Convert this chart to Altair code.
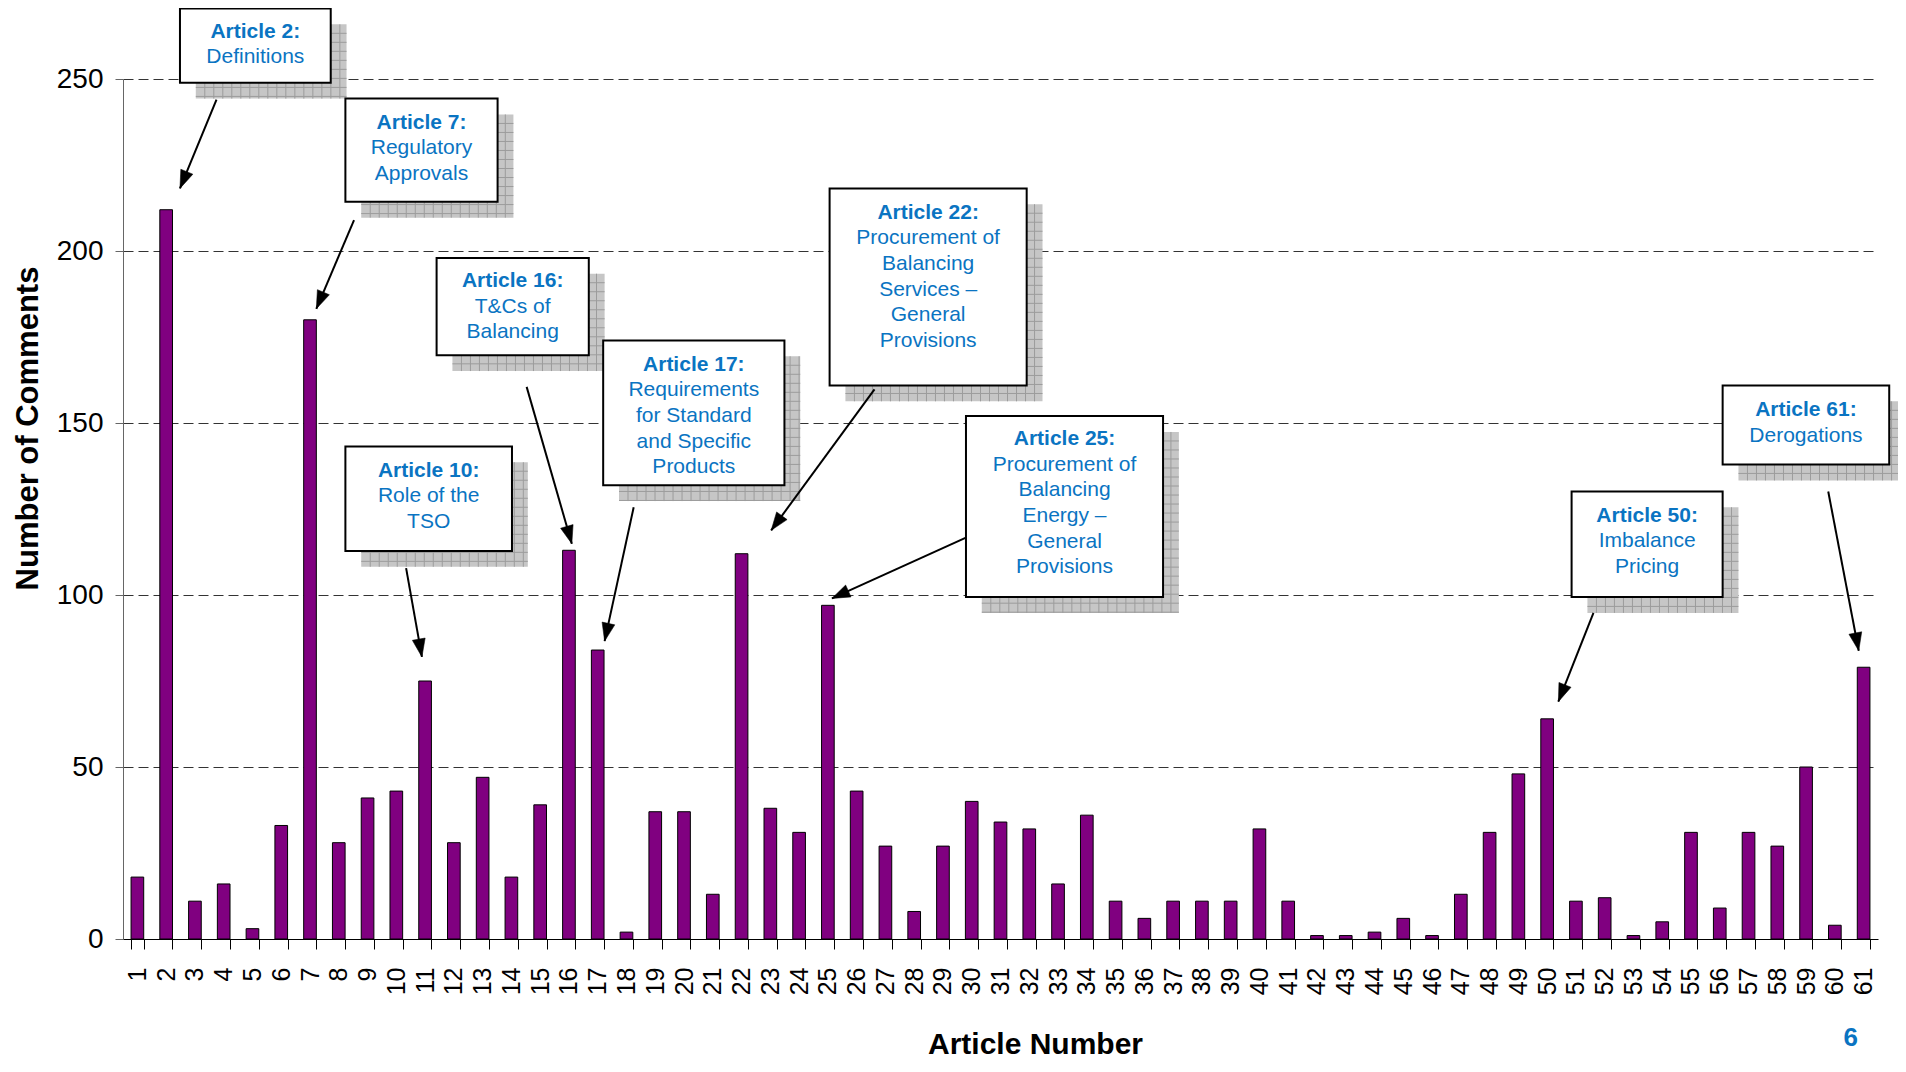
import math
import altair as alt
import pandas as pd

# ---------------- data ----------------
articles = list(range(1, 62))
comments = [18, 212, 11, 16, 3, 33, 180, 28, 41, 43,
            75, 28, 47, 18, 39, 113, 84, 2, 37, 37,
            13, 112, 38, 31, 97, 43, 27, 8, 27, 40,
            34, 32, 16, 36, 11, 6, 11, 11, 11, 32,
            11, 1, 1, 2, 6, 1, 13, 31, 48, 64,
            11, 12, 1, 5, 31, 9, 31, 27, 50, 4, 79]

# callout texts (title line, body lines)
callout_titles = ["Article 2:", "Article 7:", "Article 16:", "Article 10:", "Article 17:",
                  "Article 22:", "Article 25:", "Article 61:", "Article 50:"]
callout_bodies = [["Definitions"],
                  ["Regulatory", "Approvals"],
                  ["T&Cs of", "Balancing"],
                  ["Role of the", "TSO"],
                  ["Requirements", "for Standard", "and Specific", "Products"],
                  ["Procurement of", "Balancing", "Services \u2013", "General", "Provisions"],
                  ["Procurement of", "Balancing", "Energy \u2013", "General", "Provisions"],
                  ["Derogations"],
                  ["Imbalance", "Pricing"]]

# ---------------- layout of the callouts (in article / value units) ----------------
# box: (left, right, bottom, top); first text line centre value; arrow (from u, from v, to u, to v)
box_layout = [(2.48, 7.72, 248.9, 270.5), (8.23, 13.52, 214.3, 244.3), (11.40, 16.69, 169.7, 198.0),
              (8.23, 14.02, 112.8, 143.2), (17.19, 23.49, 131.9, 174.0), (25.06, 31.91, 160.9, 218.2),
              (29.80, 36.65, 99.4, 152.0), (56.10, 61.89, 137.9, 160.9), (50.85, 56.10, 99.4, 130.1)]
first_line = [263.8, 237.3, 191.3, 136.1, 166.9, 211.1, 145.3, 153.8, 123.1]
line_step = 7.45
arrow_layout = [(3.75, 244.0, 2.48, 218.2), (8.53, 209.0, 7.22, 183.2), (14.53, 160.5, 16.10, 114.9),
                (10.34, 107.8, 10.89, 82.0), (18.25, 125.5, 17.24, 86.6), (26.62, 159.8, 23.03, 118.8),
                (29.80, 116.7, 25.14, 99.0), (59.77, 130.1, 60.83, 83.8), (51.61, 94.8, 50.39, 69.0)]
shadow_du, shadow_dv = 0.55, 4.6
grid_du, grid_dv = 0.313, 2.62   # shadow hatch spacing

W, H = 1755, 860
BLUE = "#0a74c2"
FONT = "Liberation Sans"

bars_df = pd.DataFrame({"article": articles, "comments": comments})

xs = alt.Scale(domain=[0.5, 61.5], nice=False, zero=False)
ys = alt.Scale(domain=[0, 250], nice=False, zero=False)

boxes_df = pd.DataFrame([{"x1": b[0], "x2": b[1], "y1": b[2], "y2": b[3]} for b in box_layout])
shadow_df = boxes_df.copy()
shadow_df["x1"] += shadow_du
shadow_df["x2"] += shadow_du
shadow_df["y1"] -= shadow_dv
shadow_df["y2"] -= shadow_dv

hatch_rows = []
for _, s in shadow_df.iterrows():
    k = 1
    while s.x1 + k * grid_du < s.x2:
        xx = s.x1 + k * grid_du
        hatch_rows.append({"a": xx, "b": xx, "c": s.y1, "d": s.y2})
        k += 1
    k = 1
    while s.y2 - k * grid_dv > s.y1:
        yy = s.y2 - k * grid_dv
        hatch_rows.append({"a": s.x1, "b": s.x2, "c": yy, "d": yy})
        k += 1
hatch_df = pd.DataFrame(hatch_rows)

title_rows, body_rows = [], []
for i, b in enumerate(box_layout):
    cx = (b[0] + b[1]) / 2
    title_rows.append({"u": cx, "v": first_line[i], "t": callout_titles[i]})
    for j, line in enumerate(callout_bodies[i]):
        body_rows.append({"u": cx, "v": first_line[i] - (j + 1) * line_step, "t": line})
titles_df = pd.DataFrame(title_rows)
bodies_df = pd.DataFrame(body_rows)

px_u = W / 61.0
px_v = H / 250.0
arrow_rows = []
for a in arrow_layout:
    dx = (a[2] - a[0]) * px_u
    dy = -(a[3] - a[1]) * px_v
    ang = math.degrees(math.atan2(dx, -dy)) % 360
    arrow_rows.append({"u1": a[0], "v1": a[1], "u2": a[2], "v2": a[3], "ang": ang})
arrows_df = pd.DataFrame(arrow_rows)

page_df = pd.DataFrame([{"u": 60.55, "v": -31.0, "t": "6"}])

# ---------------- chart ----------------
bars = alt.Chart(bars_df).mark_bar(color="#800080", stroke="#000000", strokeWidth=1).encode(
    x=alt.X("article:O",
            scale=alt.Scale(paddingInner=0.56, paddingOuter=0.28),
            axis=alt.Axis(title="Article Number", labelAngle=270, labelFont=FONT, labelFontSize=25,
                          labelColor="#000000", labelPadding=18, tickBand="extent", tickSize=10,
                          tickColor="#000000", domainColor="#000000", domainWidth=1,
                          titleFont=FONT, titleFontSize=30, titleFontWeight="bold",
                          titleColor="#000000", titleX=912, titleY=114, titleBaseline="alphabetic")),
    y=alt.Y("comments:Q", scale=ys,
            axis=alt.Axis(values=[0, 50, 100, 150, 200, 250], grid=True, gridDash=[10, 5],
                          gridColor="#333333", gridWidth=1, domainColor="#666666",
                          tickColor="#666666", tickSize=8, labelFont=FONT,
                          labelFontSize=28, labelColor="#000000", labelPadding=12,
                          title="Number of Comments", titleFont=FONT, titleFontSize=31,
                          titleFontWeight="bold", titleColor="#000000", titleAngle=270,
                          titleX=-95, titleY=349, titleAlign="center", titleBaseline="middle")),
)

shadows = alt.Chart(shadow_df).mark_rect(fill="#c6c6c6").encode(
    x=alt.X("x1:Q", scale=xs, axis=None), x2="x2:Q",
    y=alt.Y("y1:Q", scale=ys, axis=None), y2="y2:Q")

hatch = alt.Chart(hatch_df).mark_rule(color="#9c9c9c", strokeWidth=1).encode(
    x=alt.X("a:Q", scale=xs, axis=None), x2="b:Q",
    y=alt.Y("c:Q", scale=ys, axis=None), y2="d:Q")

boxes = alt.Chart(boxes_df).mark_rect(fill="#ffffff", stroke="#000000", strokeWidth=2).encode(
    x=alt.X("x1:Q", scale=xs, axis=None), x2="x2:Q",
    y=alt.Y("y1:Q", scale=ys, axis=None), y2="y2:Q")

titles = alt.Chart(titles_df).mark_text(font=FONT, fontSize=21, fontWeight="bold", color=BLUE,
                                        baseline="middle", align="center").encode(
    x=alt.X("u:Q", scale=xs, axis=None), y=alt.Y("v:Q", scale=ys, axis=None), text="t:N")

bodies = alt.Chart(bodies_df).mark_text(font=FONT, fontSize=21, color=BLUE,
                                        baseline="middle", align="center").encode(
    x=alt.X("u:Q", scale=xs, axis=None), y=alt.Y("v:Q", scale=ys, axis=None), text="t:N")

arrow_lines = alt.Chart(arrows_df).mark_rule(color="#000000", strokeWidth=2).encode(
    x=alt.X("u1:Q", scale=xs, axis=None), x2="u2:Q",
    y=alt.Y("v1:Q", scale=ys, axis=None), y2="v2:Q")

arrow_heads = alt.Chart(arrows_df).mark_point(
    shape="M0,0L-0.36,1L0.36,1Z", filled=True, fill="#000000", stroke="#000000",
    strokeWidth=0.5, size=1300, opacity=1).encode(
    x=alt.X("u2:Q", scale=xs, axis=None), y=alt.Y("v2:Q", scale=ys, axis=None),
    angle=alt.Angle("ang:Q", scale=None))

page_no = alt.Chart(page_df).mark_text(font=FONT, fontSize=26, fontWeight="bold", color=BLUE,
                                       align="center", baseline="alphabetic").encode(
    x=alt.X("u:Q", scale=xs, axis=None), y=alt.Y("v:Q", scale=ys, axis=None), text="t:N")

chart = alt.layer(bars, shadows, hatch, boxes, titles, bodies, arrow_lines, arrow_heads, page_no).resolve_scale(
    x="independent", y="independent"
).properties(
    width=W, height=H,
    autosize=alt.AutoSizeParams(type="none"),
    padding={"left": 115, "top": 71, "right": 20, "bottom": 124},
    background="#ffffff",
).configure_view(stroke=None)

chart.save("out.html", embed_options={"renderer": "svg", "actions": False})
